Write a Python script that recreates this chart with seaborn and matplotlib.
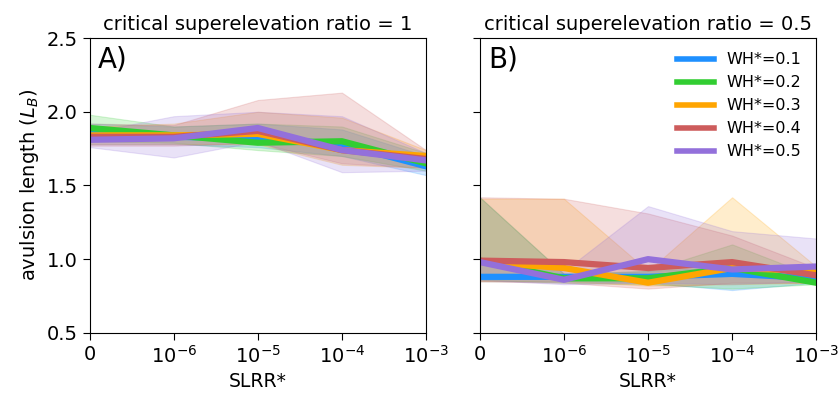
import numpy as np
import pandas as pd
import seaborn as sns
import matplotlib
matplotlib.use("Agg")
import matplotlib.pyplot as plt

# ======================================
# DATA
# ======================================

slrr_labels = ["0", "$10^{-6}$", "$10^{-5}$", "$10^{-4}$", "$10^{-3}$"]
wh_labels = ["WH*=0.1", "WH*=0.2", "WH*=0.3", "WH*=0.4", "WH*=0.5"]
colors = ["dodgerblue", "limegreen", "orange", "indianred", "mediumpurple"]

# panel A: critical superelevation ratio = 1
a_mean = [
    [1.85, 1.83, 1.82, 1.78, 1.63],
    [1.89, 1.84, 1.79, 1.80, 1.65],
    [1.84, 1.84, 1.85, 1.74, 1.70],
    [1.83, 1.83, 1.87, 1.74, 1.68],
    [1.81, 1.82, 1.89, 1.74, 1.67],
]
a_low = [
    [1.78, 1.78, 1.76, 1.70, 1.57],
    [1.80, 1.79, 1.74, 1.70, 1.60],
    [1.78, 1.78, 1.78, 1.64, 1.62],
    [1.77, 1.77, 1.79, 1.65, 1.62],
    [1.76, 1.69, 1.80, 1.59, 1.60],
]
a_high = [
    [1.92, 1.90, 1.92, 1.88, 1.70],
    [1.98, 1.90, 1.92, 1.90, 1.72],
    [1.90, 1.92, 2.00, 1.96, 1.74],
    [1.92, 1.91, 2.08, 2.13, 1.74],
    [1.86, 1.97, 2.00, 1.97, 1.72],
]

# panel B: critical superelevation ratio = 0.5
b_mean = [
    [0.88, 0.88, 0.88, 0.90, 0.87],
    [0.99, 0.87, 0.87, 0.94, 0.84],
    [0.98, 0.94, 0.84, 0.94, 0.92],
    [0.99, 0.98, 0.94, 0.98, 0.89],
    [0.98, 0.86, 1.00, 0.93, 0.95],
]
b_low = [
    [0.85, 0.85, 0.84, 0.79, 0.84],
    [0.86, 0.84, 0.83, 0.80, 0.83],
    [0.85, 0.85, 0.82, 0.83, 0.84],
    [0.85, 0.84, 0.80, 0.84, 0.84],
    [0.86, 0.83, 0.84, 0.83, 0.85],
]
b_high = [
    [1.42, 0.90, 0.92, 0.95, 0.90],
    [1.42, 0.90, 0.92, 1.10, 0.88],
    [1.41, 1.41, 0.92, 1.42, 0.95],
    [1.42, 1.41, 1.31, 1.16, 0.94],
    [1.00, 0.92, 1.36, 1.19, 1.14],
]

panels = [
    ("critical superelevation ratio = 1", "A)", a_mean, a_low, a_high),
    ("critical superelevation ratio = 0.5", "B)", b_mean, b_low, b_high),
]

# ======================================
# PLOT
# ======================================

fig, axes = plt.subplots(1, 2, figsize=(8.38, 4.01), dpi=100)
fig.subplots_adjust(left=0.107, right=0.974, bottom=0.17, top=0.905, wspace=0.16)

pos = np.arange(len(slrr_labels))

for ax, (title, tag, means, lows, highs) in zip(axes, panels):
    rows = []
    for i, lab in enumerate(wh_labels):
        for j in range(len(pos)):
            rows.append({"x": pos[j], "y": means[i][j], "wh": lab})
    df = pd.DataFrame(rows)

    for i in range(len(wh_labels)):
        ax.fill_between(pos, lows[i], highs[i], color=colors[i],
                        alpha=0.2, linewidth=0.8)

    sns.lineplot(data=df, x="x", y="y", hue="wh", palette=colors,
                 linewidth=4.5, ax=ax, legend=(tag == "B)"))

    ax.set_xlim(0, 4)
    ax.set_ylim(0.5, 2.5)
    ax.set_xticks(pos)
    ax.set_xticklabels(slrr_labels)
    ax.set_yticks([0.5, 1.0, 1.5, 2.0, 2.5])
    ax.tick_params(labelsize=14, length=5)
    ax.set_title(title, fontsize=14)
    ax.set_xlabel("SLRR*", fontsize=13.5)
    ax.text(0.025, 0.975, tag, transform=ax.transAxes, fontsize=20,
            va="top", ha="left")

axes[0].set_ylabel("avulsion length ($L_B$)", fontsize=14)
axes[1].set_ylabel("")
axes[1].set_yticklabels([])

leg = axes[1].legend(loc="upper right", frameon=False, fontsize=11.5,
                     handlelength=2.3)
for line in leg.get_lines():
    line.set_linewidth(4)

plt.savefig("out.png", dpi=100)
